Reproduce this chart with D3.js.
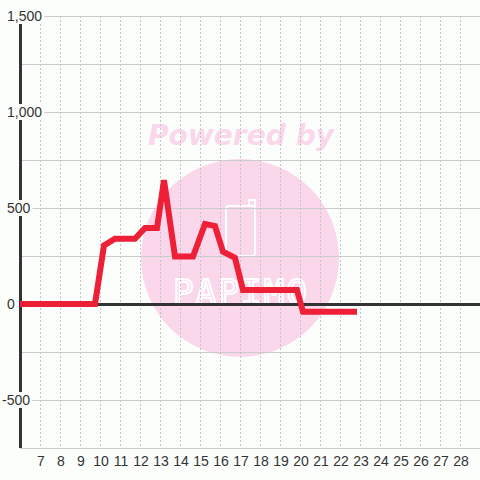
<!DOCTYPE html>
<html><head><meta charset="utf-8">
<script src="https://cdn.jsdelivr.net/npm/d3@7"></script>
<style>html,body{margin:0;padding:0;background:#fcfefc;}svg{display:block;}</style>
</head><body><div id="chart"></div>
<script>
const xValues = [6, 9.75, 10.2, 10.75, 11.75, 12.25, 12.85, 13.2, 13.75, 14.65, 15.25, 15.75, 16.15, 16.75, 17.15, 19.85, 20.15, 22.85];
const yValues = [0, 0, 305, 340, 340, 396, 396, 645, 247, 247, 417, 406, 272, 240, 73, 73, -40, -40];
const xTicks = [7,8,9,10,11,12,13,14,15,16,17,18,19,20,21,22,23,24,25,26,27,28];
const yGrid = [-750,-500,-250,0,250,500,750,1000,1250,1500];
const yLabels = [1500,1000,500,0,-500];

const W = 480, H = 480;
const x = d3.scaleLinear().domain([6, 29]).range([20, 480]);
const y = d3.scaleLinear().domain([-750, 1500]).range([448, 16]);
const bg = "#fcfefc";

const svg = d3.select("#chart").append("svg").attr("width", W).attr("height", H);
svg.append("rect").attr("width", W).attr("height", H).attr("fill", bg);

// watermark
const wm = svg.append("g");
wm.append("circle").attr("cx", 240).attr("cy", 258).attr("r", 99).attr("fill", "#fbd7ec");
wm.append("text").attr("x", 241).attr("y", 145).attr("text-anchor", "middle")
  .attr("font-family", "DejaVu Sans").attr("font-weight", "bold").attr("font-style", "italic")
  .attr("font-size", 28).attr("fill", "#fbd7ec").attr("textLength", 186).text("Powered by");
wm.append("rect").attr("x", 226).attr("y", 206).attr("width", 29).attr("height", 50).attr("rx", 3)
  .attr("fill", "none").attr("stroke", "#fff").attr("stroke-width", 2);
wm.append("path").attr("d", "M249,206 L249,200 L255,200 L255,210").attr("fill", "none").attr("stroke", "#fff").attr("stroke-width", 2);
wm.append("text").attr("x", 240).attr("y", 304).attr("text-anchor", "middle")
  .attr("font-family", "DejaVu Sans Mono").attr("font-size", 34).attr("fill", "none")
  .attr("stroke", "#fff").attr("stroke-width", 2).attr("textLength", 134).text("PAPIMO");

// horizontal grid
svg.append("g").selectAll("line").data(yGrid).join("line")
  .attr("x1", 20).attr("x2", W).attr("y1", d => y(d) + 0.5).attr("y2", d => y(d) + 0.5)
  .attr("stroke", "#cccccc").attr("stroke-width", 1);

// vertical dashed grid
svg.append("g").selectAll("line").data(xTicks).join("line")
  .attr("x1", d => x(d) + 0.5).attr("x2", d => x(d) + 0.5).attr("y1", y(1500)).attr("y2", y(-750))
  .attr("stroke", "#c4c4c4").attr("stroke-width", 1).attr("stroke-dasharray", "2,2");

// zero line
svg.append("line").attr("x1", 20).attr("x2", W).attr("y1", y(0) + 0.5).attr("y2", y(0) + 0.5)
  .attr("stroke", "#333").attr("stroke-width", 3);

// y axis line
svg.append("line").attr("x1", 20.5).attr("x2", 20.5).attr("y1", y(1500)).attr("y2", y(-750))
  .attr("stroke", "#333").attr("stroke-width", 3);

// y labels with backgrounds
const fmt = d => d3.format(",")(d).replace("\u2212", "-");
const yl = svg.append("g").attr("font-family", "Liberation Sans, Arial, sans-serif").attr("font-size", 14).attr("fill", "#333");
yLabels.forEach(v => {
  const t = yl.append("text").attr("x", v < 0 ? 2 : 7).attr("y", y(v)).attr("dy", "0.36em").text(fmt(v));
  const bb = t.node().getBBox();
  yl.insert("rect", "text").attr("x", bb.x - 2).attr("y", y(v) - 8).attr("width", bb.width + 4).attr("height", 16).attr("fill", bg);
});

// x labels
svg.append("g").attr("font-family", "Liberation Sans, Arial, sans-serif").attr("font-size", 14).attr("fill", "#333")
  .selectAll("text").data(xTicks).join("text")
  .attr("x", d => x(d) + 1).attr("y", 466).attr("text-anchor", "middle").text(d => d);

// series line
const pts = xValues.map((d, i) => [d, yValues[i]]);
svg.append("path").datum(pts)
  .attr("d", d3.line().x(d => x(d[0])).y(d => y(d[1])))
  .attr("fill", "none").attr("stroke", "#ee2038").attr("stroke-width", 6).attr("stroke-linejoin", "miter");
</script></body></html>
